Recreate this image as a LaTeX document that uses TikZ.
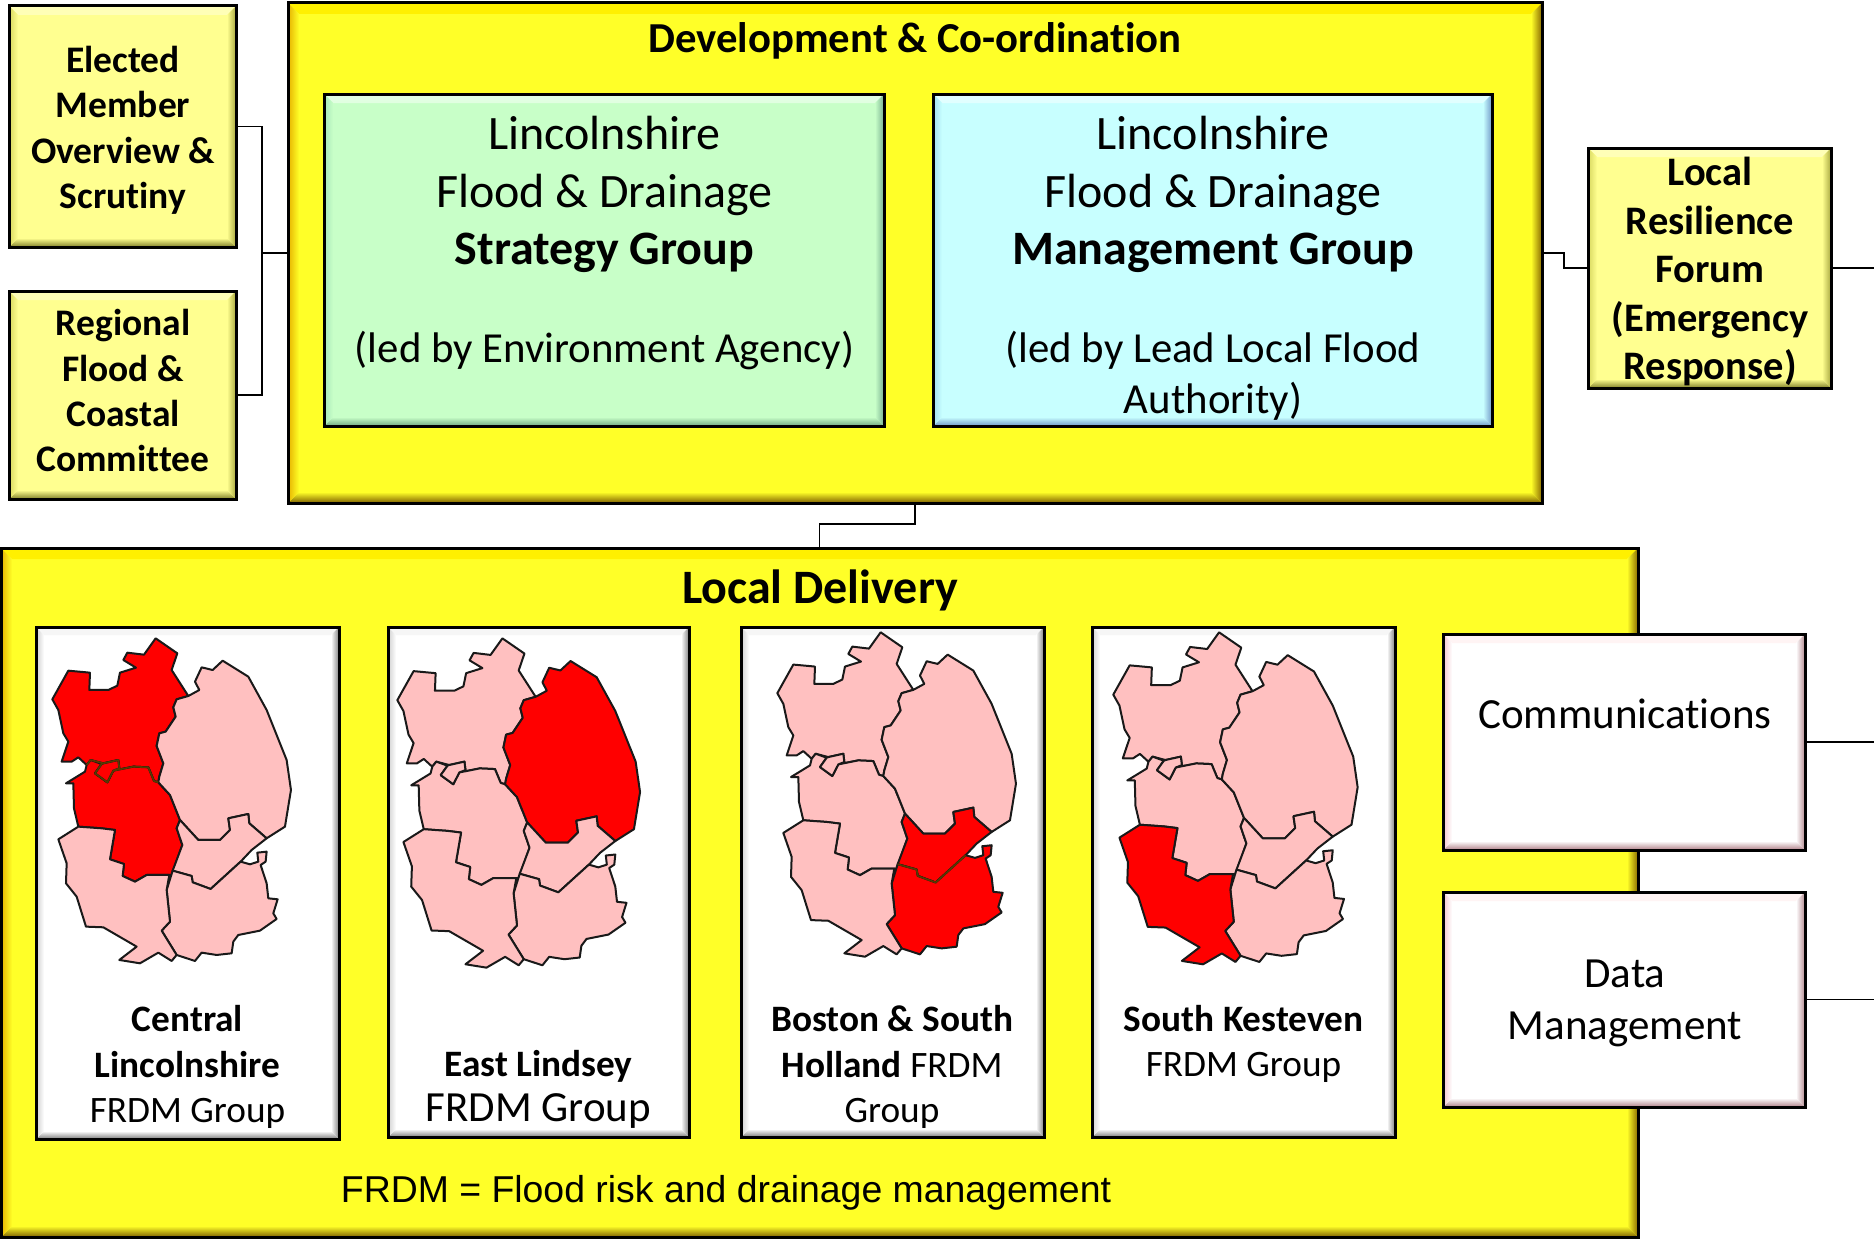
\documentclass[tikz,border=0pt]{standalone}
\usepackage{fontspec}
\setmainfont{Carlito}[Ligatures=NoCommon]
\newfontfamily\arialfont{Liberation Sans}
\definecolor{pinkreg}{HTML}{FFC0C0}
\definecolor{redreg}{HTML}{FF0000}
\definecolor{olivebd}{HTML}{5A3A00}
\definecolor{myF}{HTML}{FFFF28}\definecolor{myT}{HTML}{FFF000}\definecolor{myR}{HTML}{8A6A00}\definecolor{myB}{HTML}{7E6000}\definecolor{myL}{HTML}{E6B400}
\definecolor{syF}{HTML}{FFFF90}\definecolor{syT}{HTML}{FFFFB8}\definecolor{syR}{HTML}{A8A840}\definecolor{syB}{HTML}{7E7E28}\definecolor{syL}{HTML}{D8D860}
\definecolor{grF}{HTML}{C8FFC8}\definecolor{grT}{HTML}{E2FFE2}\definecolor{grR}{HTML}{78B090}\definecolor{grB}{HTML}{70A880}\definecolor{grL}{HTML}{A8E8B8}
\definecolor{blF}{HTML}{C8FFFF}\definecolor{blT}{HTML}{E2FFFF}\definecolor{blR}{HTML}{7098C8}\definecolor{blB}{HTML}{7098C8}\definecolor{blL}{HTML}{A4E0F0}
\definecolor{caF}{HTML}{FFFFFF}\definecolor{caT}{HTML}{F6F6F6}\definecolor{caR}{HTML}{808080}\definecolor{caB}{HTML}{7C7C7C}\definecolor{caL}{HTML}{D0D0D0}
\definecolor{piF}{HTML}{FFFFFF}\definecolor{piT}{HTML}{FFF4F4}\definecolor{piR}{HTML}{B48A90}\definecolor{piB}{HTML}{B08088}\definecolor{piL}{HTML}{F2C4CC}
\def\ppb{path picture bounding box}
\tikzset{
  bevel/.style n args={6}{fill=#1,
    path picture={
      \shade[top color=#3,bottom color=#1] (\ppb.north west)--(\ppb.north east)--([shift={(-#2,#2)}]\ppb.north east)--([shift={(#2,#2)}]\ppb.north west)--cycle;
      \shade[top color=#1,bottom color=#5] (\ppb.south west)--(\ppb.south east)--([shift={(-#2,-#2)}]\ppb.south east)--([shift={(#2,-#2)}]\ppb.south west)--cycle;
      \shade[left color=#6,right color=#1] (\ppb.north west)--(\ppb.south west)--([shift={(#2,-#2)}]\ppb.south west)--([shift={(#2,#2)}]\ppb.north west)--cycle;
      \shade[left color=#1,right color=#4] (\ppb.north east)--(\ppb.south east)--([shift={(-#2,-#2)}]\ppb.south east)--([shift={(-#2,#2)}]\ppb.north east)--cycle;
    }},
  boxbase/.style={draw=black,line width=3pt,inner sep=0pt,outer sep=0pt,rectangle},
  mainyellow/.style={boxbase,bevel={myF}{11}{myT}{myR}{myB}{myL}},
  sideyellow/.style={boxbase,bevel={syF}{9}{syT}{syR}{syB}{syL}},
  greenbox/.style={boxbase,bevel={grF}{9}{grT}{grR}{grB}{grL}},
  bluebox/.style={boxbase,bevel={blF}{9}{blT}{blR}{blB}{blL}},
  cardbox/.style={boxbase,bevel={caF}{8}{caT}{caR}{caB}{caL}},
  pinkbox/.style={boxbase,bevel={piF}{9}{piT}{piR}{piB}{piL}},
  conn/.style={draw=black,line width=1.6pt},
  region/.style={draw=black!90,line width=2pt,line join=round},
  lbl/.style={inner sep=0pt,outer sep=0pt,align=center,text=black,
    execute at begin node=\strut,execute at end node=\strut},
  elabel/.style={lbl,font=\fontsize{37.5}{45.3}\selectfont\bfseries},
  flabel/.style={lbl,font=\fontsize{40.5}{48.5}\selectfont\bfseries},
  biglabel/.style={lbl,font=\fontsize{48}{57.5}\selectfont},
  ledlabel/.style={lbl,font=\fontsize{42.8}{51}\selectfont},
  sidelabel/.style={lbl,font=\fontsize{43}{51.5}\selectfont},
  cardlabel/.style={lbl,font=\fontsize{37.3}{45.5}\selectfont},
}
\newcommand{\bx}[6]{\node[#6,minimum width={(#4-#2)*1pt},minimum height={(#5-#3)*1pt}] (#1) at ({(#2+#4)/2},{(#3+#5)/2}) {};}
\def\regWL{(157,238)--(205,152)--(270,158)--(268,210)--(325,210)--(352,197)--(360,158)--(408,143)--(370,120)--(382,98)--(432,104)--(467,55)--(532,100)--(515,150)--(565,228)--(530,238)--(520,262)--(527,290)--(497,335)--(478,340)--(470,378)--(490,430)--(478,470)--(475,487)--(462,483)--(445,442)--(400,440)--(340,452)--(358,445)--(355,420)--(310,430)--(272,420)--(260,435)--(235,412)--(215,425)--(185,425)--(205,365)--(190,340)--(175,270)--cycle}
\def\regNK{(260,435)--(272,420)--(305,432)--(285,460)--(322,487)--(340,452)--(400,440)--(445,442)--(462,483)--(475,487)--(510,525)--(540,600)--(530,625)--(547,675)--(515,765)--(440,765)--(405,785)--(368,768)--(372,732)--(330,718)--(345,630)--(305,625)--(235,620)--(222,565)--(220,490)--(198,490)--(255,455)--cycle}
\def\regLin{(305,432)--(310,430)--(355,420)--(358,445)--(340,452)--(322,487)--(285,460)--cycle}
\def\regEL{(565,228)--(598,210)--(585,185)--(605,142)--(638,150)--(668,122)--(745,170)--(800,270)--(860,420)--(873,510)--(855,620)--(800,655)--(748,610)--(745,582)--(685,595)--(690,630)--(660,660)--(595,660)--(540,600)--(510,525)--(475,487)--(478,470)--(490,430)--(470,378)--(478,340)--(497,335)--(527,290)--(520,262)--(530,238)--cycle}
\def\regB{(540,600)--(595,660)--(660,660)--(690,630)--(685,595)--(745,582)--(748,610)--(800,655)--(755,690)--(722,725)--(632,807)--(578,787)--(575,768)--(518,752)--(547,675)--(530,625)--cycle}
\def\regSH{(518,752)--(575,768)--(578,787)--(632,807)--(722,725)--(750,733)--(775,725)--(772,698)--(800,695)--(797,725)--(782,735)--(800,790)--(805,835)--(833,838)--(820,880)--(830,897)--(780,932)--(715,945)--(700,965)--(695,1000)--(650,1005)--(605,998)--(585,1023)--(530,1005)--(485,932)--(510,905)--(500,810)--cycle}
\def\regSK{(235,620)--(305,625)--(345,630)--(330,718)--(372,732)--(368,768)--(405,785)--(440,765)--(508,765)--(500,810)--(510,905)--(485,932)--(530,1005)--(515,1023)--(475,998)--(420,1030)--(358,1020)--(410,980)--(310,922)--(258,920)--(230,830)--(198,790)--(200,730)--(175,658)--cycle}
\newcommand{\lmap}[9]{\begin{scope}[#1]
  \path[region,fill=#2] \regWL;
  \path[region,fill=#4] \regNK;
  \path[region,fill=#3] \regLin;
  \path[region,fill=#5] \regEL;
  \path[region,fill=#6] \regB;
  \path[region,fill=#7] \regSH;
  \path[region,fill=#8] \regSK;
  #9
\end{scope}}
\begin{document}
\begin{tikzpicture}[x=1pt,y=-1pt]
\useasboundingbox (0,0) rectangle (1874,1239);
% top row
\bx{dev}{288}{3}{1542}{503}{mainyellow}
\bx{elected}{9}{6}{236}{247}{sideyellow}
\bx{regional}{9}{291}{236}{499}{sideyellow}
\bx{strategy}{324}{94}{884}{426}{greenbox}
\bx{mgmt}{933}{94}{1492}{426}{bluebox}
\bx{lrf}{1588}{148}{1831}{388}{sideyellow}
% lower panel
\bx{delivery}{1}{548}{1638}{1237}{mainyellow}
\bx{cardA}{36}{627}{339}{1139}{cardbox}
\bx{cardB}{388}{627}{689}{1137}{cardbox}
\bx{cardC}{741}{627}{1044}{1137}{cardbox}
\bx{cardD}{1092}{627}{1395}{1137}{cardbox}
\bx{comms}{1443}{634}{1805}{850}{pinkbox}
\bx{datam}{1443}{892}{1805}{1107}{pinkbox}
% connectors
\coordinate (rightedge) at (1874,0);
\draw[conn] (elected.east) -- ++(26,0) |- (regional.east);
\draw[conn] (dev.west) -- ++(-26,0);
\draw[conn] (dev.east) -- ++(22,0) |- (lrf.west);
\draw[conn] (lrf.east) -- (lrf.east -| rightedge);
\draw[conn] (dev.south) -- ++(0,21) -| (delivery.north);
\draw[conn] (comms.east) -- (comms.east -| rightedge);
\draw[conn] (datam.east) -- (datam.east -| rightedge);
% maps
\lmap{yshift=-620pt,xscale=.3333,yscale=.3333}{redreg}{redreg}{redreg}{pinkreg}{pinkreg}{pinkreg}{pinkreg}{
  \draw[draw=olivebd,line width=1.6pt,line join=round] (260,435)--(272,420)--(310,430)--(355,420)--(358,445)--(340,452)--(400,440)--(445,442)--(462,483)--(475,487) (305,432)--(285,460)--(322,487)--(340,452);}
\lmap{xshift=344.1pt,yshift=-619.8pt,xscale=.339,yscale=.3377}{pinkreg}{pinkreg}{pinkreg}{redreg}{pinkreg}{pinkreg}{pinkreg}{}
\lmap{xshift=725pt,yshift=-614pt,xscale=.3333,yscale=.3327}{pinkreg}{pinkreg}{pinkreg}{pinkreg}{redreg}{redreg}{pinkreg}{
  \draw[draw=olivebd,line width=1.6pt,line join=round] (518,752)--(575,768)--(578,787)--(632,807)--(722,725);}
\lmap{xshift=1059.7pt,yshift=-613.6pt,xscale=.3413,yscale=.3405}{pinkreg}{pinkreg}{pinkreg}{pinkreg}{pinkreg}{pinkreg}{redreg}{}
% texts
\node[lbl,font=\fontsize{42.7}{48}\selectfont\bfseries] (devT) at (915,42.5) {Development \& Co-ordination};
\node[elabel] (electedT) at (123,134) {Elected\\Member\\Overview \&\\Scrutiny};
\node[elabel] (regionalT) at (123,397.5) {Regional\\Flood \&\\Coastal\\Committee};
\node[flabel] (lrfT) at (1710,276) {Local\\Resilience\\Forum\\(Emergency\\Response)};
\node[biglabel] (strategyT) at (604.5,199) {Lincolnshire\\Flood \& Drainage\\\textbf{Strategy Group}};
\node[ledlabel] (strategyL) at (604.5,352) {(led by Environment Agency)};
\node[biglabel] (mgmtT) at (1213,199) {Lincolnshire\\Flood \& Drainage\\\textbf{Management Group}};
\node[ledlabel] (mgmtL) at (1213,380) {(led by Lead Local Flood\\Authority)};
\node[lbl,font=\fontsize{48}{54}\selectfont\bfseries] (deliveryT) at (820,593) {Local Delivery};
\node[cardlabel] (cardAT) at (187.5,1071) {\textbf{Central}\\\textbf{Lincolnshire}\\FRDM Group};
\node[cardlabel] (cardBT) at (538.5,1067) {\textbf{East Lindsey}};
\node[lbl,font=\fontsize{43}{50}\selectfont] (cardBF) at (538.5,1111.5) {FRDM Group};
\node[cardlabel] (cardCT) at (892,1071) {\textbf{Boston \& South}\\\textbf{Holland} FRDM\\Group};
\node[cardlabel] (cardDT) at (1243.5,1047.5) {\textbf{South Kesteven}\\FRDM Group};
\node[sidelabel] (commsT) at (1625,718.5) {Communications};
\node[sidelabel] (datamT) at (1625,1007.5) {Data\\Management};
\node[lbl,font=\fontsize{37.4}{46}\arialfont\selectfont] (noteT) at (726,1193) {FRDM = Flood risk and drainage management};
\end{tikzpicture}
\end{document}
